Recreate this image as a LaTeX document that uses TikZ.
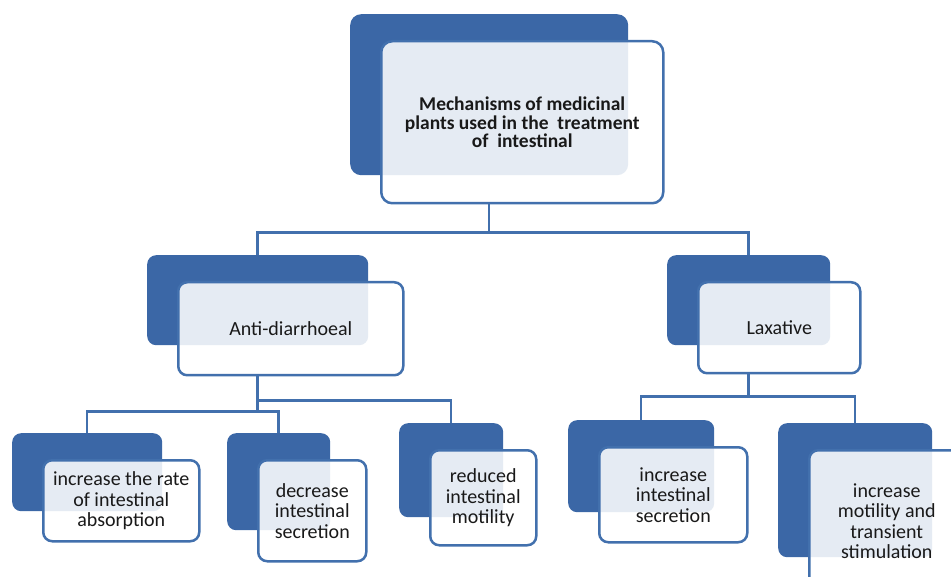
\documentclass[tikz,border=0pt]{standalone}
\usepackage{fontspec}
\setmainfont{Carlito}
\usetikzlibrary{backgrounds}
\definecolor{backBlue}{RGB}{59,103,166}
\definecolor{lineBlue}{RGB}{66,112,173}
\tikzstyle{diagram} = [x = 1pt, y = -1pt]
\tikzstyle{backBoxStyle} = [fill=backBlue, rounded corners = 9pt, anchor=north west, inner sep=0pt]
\tikzstyle{frontBoxStyle} = [draw=lineBlue, line width=2.5pt, fill=white, fill opacity=0.87, text opacity=1, text=black!90, rounded corners = 9pt, anchor=north west, inner sep=0pt, align=center, font=\fontsize{20}{20.5}\selectfont]
\tikzstyle{linkLine} = [draw=lineBlue, line width=2.5pt]
\tikzstyle{titleText} = [font=\bfseries\fontsize{19.5}{18.5}\selectfont, rounded corners = 11pt]
% dark box at (x,y), light box shifted by (30,26)
\newcommand{\stackBox}[9][]{
  \node [backBoxStyle, minimum width=#5pt, minimum height=#6pt, #1] (#2Back) at (#3,#4) {};
  \node [frontBoxStyle, minimum width=#7pt, minimum height=#8pt, #1] (#2) at (#3 + 30,#4 + 26) {#9};
}

\begin{document}
\begin{tikzpicture}[diagram]
  \useasboundingbox (0,0) rectangle (951,577);
  \clip (0,0) rectangle (951,577);

  \stackBox[titleText]{mech}{350}{14}{278}{161}{282}{162}{Mechanisms of medicinal\\plants used in the~ treatment\\of~ intestinal}
  \stackBox{anti}{147}{255}{221}{90}{225}{93}{Anti-diarrhoeal}
  \stackBox{lax}{667}{255}{163}{90}{162}{91}{Laxative}
  \stackBox{absorb}{12}{433}{150}{78}{156}{81}{increase the rate\\of intestinal\\absorption}
  \stackBox{decrease}{227}{433}{103}{97}{108}{101}{decrease\\intestinal\\secretion}
  \stackBox{reduced}{399}{423}{104}{94}{106}{95}{reduced\\intestinal\\motility}
  \stackBox{secretion}{568}{420}{146}{92}{148}{95}{increase\\intestinal\\secretion}
  \stackBox{stimul}{778}{423}{154}{134}{155}{142}{increase\\motility and\\transient\\stimulation}

  \begin{scope}[on background layer]
    \draw [linkLine] (mechBack.south |- mech.south) -- ++(0,28) -| (antiBack.north);
    \draw [linkLine] (mechBack.south |- mech.south) -- ++(0,28) -| (laxBack.north);
    \draw [linkLine] (antiBack.south |- anti.south) -- ++(0,35) -| (absorbBack.north);
    \draw [linkLine] (antiBack.south |- anti.south) -- ++(0,35) -| (decreaseBack.north);
    \draw [linkLine] (antiBack.south |- anti.south) -- ++(0,24) -| (reducedBack.north);
    \draw [linkLine] (laxBack.south |- lax.south) -- ++(0,22) -| (secretionBack.north);
    \draw [linkLine] (laxBack.south |- lax.south) -- ++(0,22) -| (stimulBack.north);
  \end{scope}
\end{tikzpicture}
\end{document}
